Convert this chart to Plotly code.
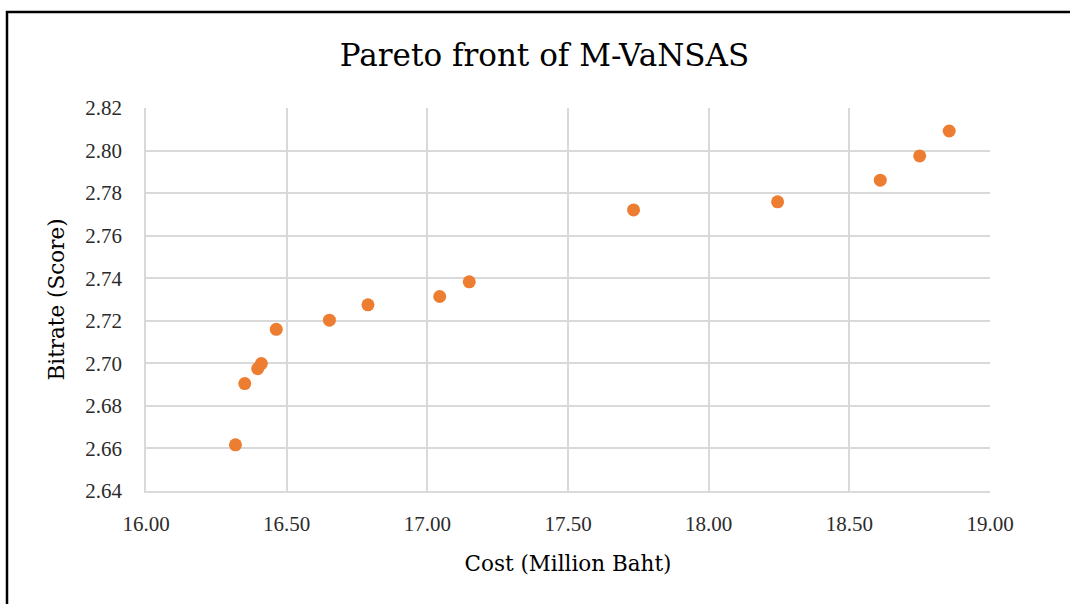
import plotly.graph_objects as go

# Pareto-optimal solutions: cost vs. bitrate score
cost = [16.318, 16.351, 16.397, 16.410, 16.463, 16.652, 16.789,
        17.044, 17.149, 17.733, 18.245, 18.610, 18.750, 18.855]
bitrate = [2.6617, 2.6905, 2.6975, 2.6999, 2.7160, 2.7203, 2.7275,
           2.7314, 2.7383, 2.7721, 2.7759, 2.7861, 2.7975, 2.8092]

x_ticks = [16.0, 16.5, 17.0, 17.5, 18.0, 18.5, 19.0]
y_ticks = [2.64, 2.66, 2.68, 2.70, 2.72, 2.74, 2.76, 2.78, 2.80, 2.82]

TEXT_FONT = "DejaVu Serif"
TICK_FONT = "Liberation Serif"
GRID = "#d9d9d9"
TICK_COLOR = "#2b2b2b"

W, H = 1070, 604
L, R, T, B = 146, 80, 108, 113

fig = go.Figure()
fig.add_trace(go.Scatter(
    x=cost, y=bitrate, mode="markers",
    marker=dict(color="#ED7D31", size=13, line=dict(width=0)),
    showlegend=False,
))

fig.update_layout(
    width=W, height=H,
    margin=dict(l=L, r=R, t=T, b=B),
    paper_bgcolor="white", plot_bgcolor="white",
    title=dict(text="Pareto front of M-VaNSAS", x=544.5 / W, xref="container",
               xanchor="center", y=1 - 55 / H, yanchor="middle",
               font=dict(family=TEXT_FONT, size=31, color="black")),
    font=dict(family=TICK_FONT),
)

fig.update_xaxes(
    range=[16.0, 19.0], tickvals=x_ticks,
    ticktext=[f"{v:.2f}" for v in x_ticks],
    showgrid=True, gridcolor=GRID, gridwidth=1.5,
    showline=True, linecolor=GRID, linewidth=2,
    zeroline=False, ticks="", ticklabelstandoff=13,
    tickfont=dict(family=TICK_FONT, size=21, color=TICK_COLOR),
    title=dict(text="Cost (Million Baht)", standoff=21,
               font=dict(family=TEXT_FONT, size=21.5, color="black")),
)
fig.update_yaxes(
    range=[2.64, 2.82], tickvals=y_ticks,
    ticktext=[f"{v:.2f}" for v in y_ticks],
    showgrid=True, gridcolor=GRID, gridwidth=1.5,
    showline=True, linecolor=GRID, linewidth=1.5,
    zeroline=False, ticks="", ticklabelstandoff=18,
    tickfont=dict(family=TICK_FONT, size=21, color=TICK_COLOR),
    title=dict(text="Bitrate (Score)", standoff=15,
               font=dict(family=TEXT_FONT, size=21.5, color="black")),
)

# Chart-area frame (top and left edges fall inside the page)
pw, ph = W - L - R, H - T - B
fig.add_shape(type="rect", xref="paper", yref="paper",
              x0=(7 - L) / pw, x1=1.3, y0=-0.6, y1=1 + (T - 12) / ph,
              line=dict(color="black", width=2.5), layer="below")

fig.write_html("out.html")
